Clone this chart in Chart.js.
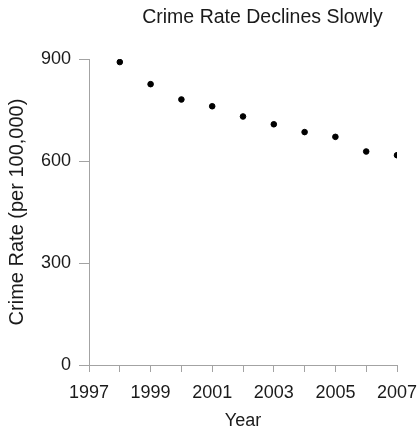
<!DOCTYPE html>
<html>
<head>
<meta charset="utf-8">
<script src="https://cdn.jsdelivr.net/npm/chart.js@4/dist/chart.umd.min.js"></script>
<style>
html,body{margin:0;padding:0;background:#fff;}
#wrap{width:419px;height:428px;position:relative;}
</style>
</head>
<body>
<div id="wrap"><canvas id="c" width="419" height="428"></canvas></div>
<script>
const chartTitle = "Crime Rate Declines Slowly";
const xAxisTitle = "Year";
const yAxisTitle = "Crime Rate (per 100,000)";
const years = [1998, 1999, 2000, 2001, 2002, 2003, 2004, 2005, 2006, 2007];
const crimeRates = [891, 826, 781, 761, 731, 708, 685, 671, 628, 617];
const xRange = [1997, 2007];
const xLabelStep = 2;
const yRange = [0, 900];
const yTickStep = 300;

const FONT = "'Liberation Sans', Arial, sans-serif";
const AXIS_GRAY = '#a3a3a3';
const TEXT = '#1a1a1a';

const shiftTitle = {
  id: 'shiftTitle',
  afterLayout(chart) {
    const tb = chart.titleBlock;
    if (tb) { tb.left += 64; tb.right += 64; }
  }
};

new Chart(document.getElementById('c'), {
  type: 'scatter',
  data: {
    datasets: [{
      data: years.map((y, i) => ({x: y, y: crimeRates[i]})),
      backgroundColor: '#000',
      borderColor: '#000',
      pointRadius: 2.8,
      pointHoverRadius: 2.8
    }]
  },
  plugins: [shiftTitle],
  options: {
    responsive: false,
    animation: false,
    devicePixelRatio: 1,
    layout: { padding: { top: 0, right: 22, bottom: 0, left: 0 } },
    plugins: {
      legend: { display: false },
      tooltip: { enabled: false },
      title: {
        display: true,
        text: chartTitle,
        color: TEXT,
        font: { family: FONT, size: 19.5, weight: 'normal', lineHeight: 1.2 },
        padding: { top: 6.3, bottom: 29.3 }
      }
    },
    scales: {
      x: {
        type: 'linear',
        min: xRange[0],
        max: xRange[1],
        afterFit(axis) { axis.height = 63; axis.paddingRight = 0; axis.paddingLeft = 0; },
        border: { display: true, color: AXIS_GRAY, width: 1 },
        grid: { drawOnChartArea: false, drawTicks: true, tickLength: 7, color: AXIS_GRAY },
        ticks: {
          stepSize: 1,
          autoSkip: false,
          maxRotation: 0,
          padding: 10,
          color: TEXT,
          font: { family: FONT, size: 18 },
          callback: (v) => ((v - xRange[0]) % xLabelStep === 0 ? String(v) : '')
        },
        title: {
          display: true,
          text: xAxisTitle,
          color: TEXT,
          font: { family: FONT, size: 18, lineHeight: 1 },
          padding: { top: 0, bottom: -2 }
        }
      },
      y: {
        type: 'linear',
        min: yRange[0],
        max: yRange[1],
        afterFit(axis) { axis.width = 89; },
        border: { display: true, color: AXIS_GRAY, width: 1 },
        grid: { drawOnChartArea: false, drawTicks: true, tickLength: 10, color: AXIS_GRAY },
        ticks: {
          stepSize: yTickStep,
          padding: 8,
          color: TEXT,
          font: { family: FONT, size: 18 }
        },
        title: {
          display: true,
          text: yAxisTitle,
          color: TEXT,
          font: { family: FONT, size: 20, lineHeight: 1.2 },
          padding: { top: 5, bottom: 0 }
        }
      }
    }
  }
});
</script>
</body>
</html>
